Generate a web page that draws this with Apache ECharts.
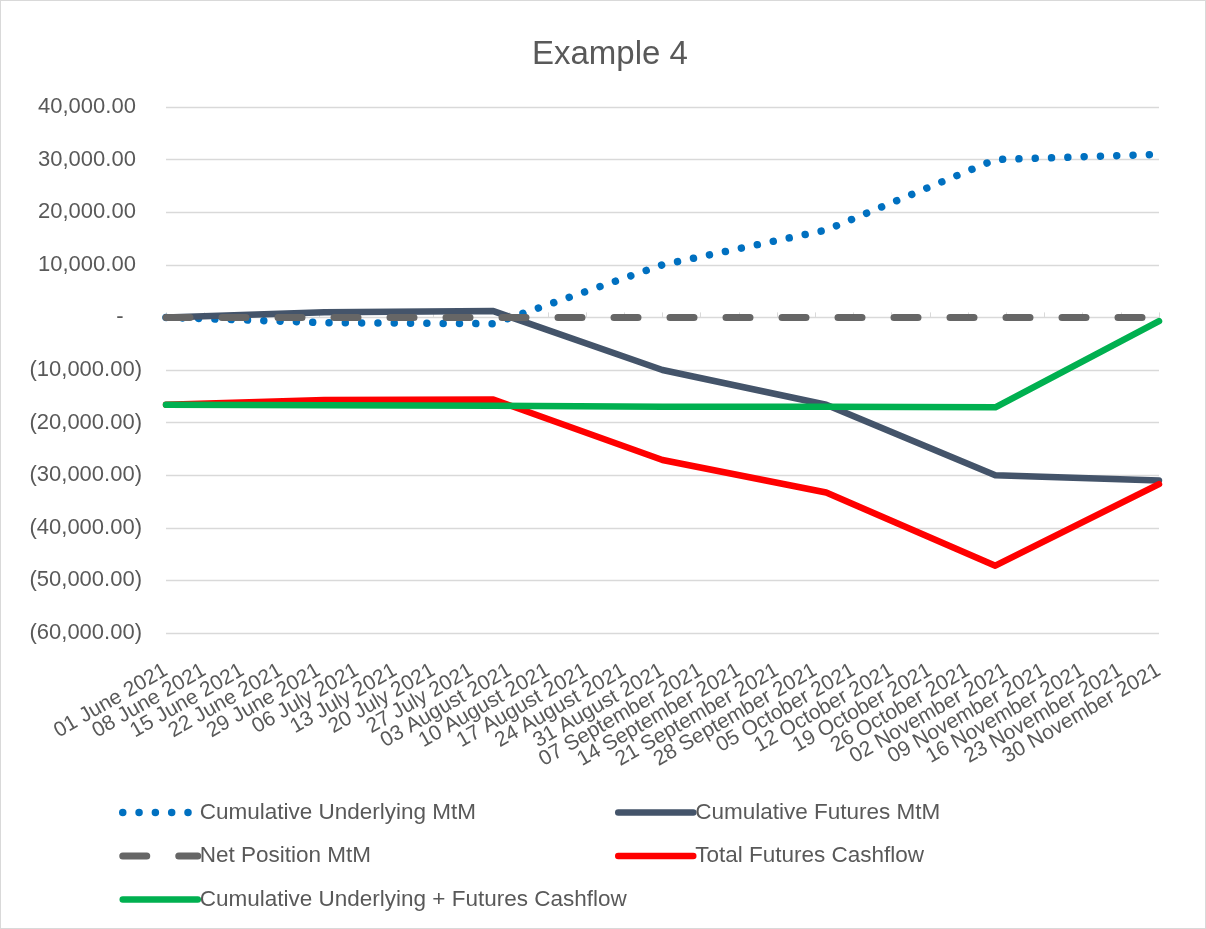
<!DOCTYPE html>
<html>
<head>
<meta charset="utf-8">
<title>Example 4</title>
<script src="https://cdn.jsdelivr.net/npm/echarts@6/dist/echarts.min.js"></script>
<style>
  html, body { margin: 0; padding: 0; background: #ffffff; }
  #chart { width: 1206px; height: 929px; box-sizing: border-box; border: 1px solid #d9d9d9; }
</style>
</head>
<body>
<div id="chart"></div>
<script>
const startDate = '2021-06-01'
const endDate = '2021-11-30'
const pointDates = ['2021-06-01', '2021-06-30', '2021-07-31', '2021-08-31', '2021-09-30', '2021-10-31', '2021-11-30']
const underlyingMtm = [0, -1000, -1200, 10000, 16600, 30000, 31000]
const futuresMtm = [0, 1000, 1200, -10000, -16600, -30000, -31000]
const netPositionMtm = [0, 0, 0, 0, 0, 0, 0]
const futuresCashflow = [-16600, -15700, -15600, -27100, -33300, -47200, -31700]
const underlyingPlusCashflow = [-16600, -16700, -16800, -17000, -17000, -17100, -700]
const monthNames = ['January', 'February', 'March', 'April', 'May', 'June', 'July',
  'August', 'September', 'October', 'November', 'December']

const DAY = 86400000
const FONT = '"Liberation Sans", Arial, sans-serif'
const TEXT = '#595959'

// plot box in pixels
const PLOT_LEFT = 165
const PLOT_RIGHT = 46
const PLOT_TOP = 106
const PLOT_BOTTOM = 295

function dayOffset(d) {
  return (Date.parse(d) - Date.parse(startDate)) / DAY
}

function toPairs(values) {
  return pointDates.map((d, i) => [dayOffset(d), values[i]])
}

function dateLabel(offset) {
  const d = new Date(Date.parse(startDate) + offset * DAY)
  const dd = String(d.getUTCDate()).padStart(2, '0')
  return dd + ' ' + monthNames[d.getUTCMonth()] + ' ' + d.getUTCFullYear()
}

// accounting style: 40,000.00 / - / (10,000.00)
function moneyLabel(v) {
  if (v === 0) return '-   '
  const s = Math.abs(v).toLocaleString('en-US', { minimumFractionDigits: 2, maximumFractionDigits: 2 })
  return v < 0 ? '(' + s + ')' : s + ' '
}

const lastDay = dayOffset(endDate)

// weekly labels are split over two axes (even / odd weeks) so ECharts v6
// does not drop the labels next to the first and last one
const pxPerDay = (1206 - PLOT_LEFT - PLOT_RIGHT) / lastDay
const weekShift = 7 * pxPerDay

const chart = echarts.init(document.getElementById('chart'))

function lineSeries(name, values, color, width, type, z) {
  return {
    name: name,
    type: 'line',
    data: toPairs(values),
    symbol: 'none',
    z: z,
    lineStyle: { color: color, width: width, type: type, cap: 'round', join: 'round' },
    itemStyle: { color: color }
  }
}

const dateLabelStyle = {
  rotate: 30,
  margin: 36,
  fontSize: 21,
  color: TEXT,
  fontFamily: FONT,
  showMinLabel: true,
  showMaxLabel: true,
  formatter: dateLabel
}

const legendBase = {
  orient: 'vertical',
  top: 800,
  padding: 0,
  itemWidth: 75,
  itemHeight: 14,
  itemGap: 20.5,
  selectedMode: false,
  textStyle: { fontSize: 22.5, color: TEXT, fontFamily: FONT, padding: [0, 0, 0, -3] },
  itemStyle: { opacity: 0 },
  lineStyle: { width: 'inherit', type: 'inherit', cap: 'inherit' }
}

chart.setOption({
  animation: false,
  backgroundColor: '#ffffff',
  textStyle: { fontFamily: FONT },
  title: {
    text: 'Example 4',
    left: 526,
    top: 32,
    textStyle: { fontSize: 33, fontWeight: 'normal', color: TEXT, fontFamily: FONT }
  },
  legend: [
    Object.assign({}, legendBase, {
      left: 118,
      data: ['Cumulative Underlying MtM', 'Net Position MtM', 'Cumulative Underlying + Futures Cashflow']
    }),
    Object.assign({}, legendBase, {
      left: 614,
      data: ['Cumulative Futures MtM', 'Total Futures Cashflow']
    })
  ],
  grid: [
    { left: PLOT_LEFT, right: PLOT_RIGHT, top: PLOT_TOP, bottom: PLOT_BOTTOM },
    { left: PLOT_LEFT + weekShift, right: PLOT_RIGHT + weekShift, top: PLOT_TOP, bottom: PLOT_BOTTOM }
  ],
  xAxis: [
    {
      type: 'value',
      gridIndex: 0,
      min: 0,
      max: lastDay,
      interval: 14,
      position: 'bottom',
      axisLine: { show: false, onZero: false },
      axisTick: { show: false },
      splitLine: { show: false },
      axisLabel: dateLabelStyle
    },
    {
      type: 'value',
      gridIndex: 0,
      min: 0,
      max: lastDay,
      interval: 7,
      axisLine: { show: true, onZero: true, lineStyle: { color: '#d9d9d9', width: 1 } },
      axisTick: { show: true, length: 5, lineStyle: { color: '#d9d9d9' } },
      axisLabel: { show: false },
      splitLine: { show: false }
    },
    {
      type: 'value',
      gridIndex: 1,
      min: 7,
      max: lastDay - 7,
      interval: 14,
      position: 'bottom',
      axisLine: { show: false, onZero: false },
      axisTick: { show: false },
      splitLine: { show: false },
      axisLabel: dateLabelStyle
    }
  ],
  yAxis: [
    {
      type: 'value',
      gridIndex: 0,
      min: -60000,
      max: 40000,
      interval: 10000,
      axisLine: { show: false },
      axisTick: { show: false },
      splitLine: { lineStyle: { color: '#d9d9d9', width: 1.3 } },
      axisLabel: {
        margin: 24,
        fontSize: 22,
        color: TEXT,
        fontFamily: FONT,
        formatter: moneyLabel
      }
    },
    {
      type: 'value',
      gridIndex: 1,
      min: -60000,
      max: 40000,
      show: false
    }
  ],
  series: [
    lineSeries('Cumulative Underlying MtM', underlyingMtm, '#0070c0', 7.5, [0.01, 16.3], 2),
    lineSeries('Cumulative Futures MtM', futuresMtm, '#44546a', 6.5, 'solid', 3),
    lineSeries('Net Position MtM', netPositionMtm, '#666666', 7, [24, 32], 4),
    lineSeries('Total Futures Cashflow', futuresCashflow, '#ff0000', 6.5, 'solid', 5),
    lineSeries('Cumulative Underlying + Futures Cashflow', underlyingPlusCashflow, '#00b050', 6.5, 'solid', 6)
  ]
})
</script>
</body>
</html>
